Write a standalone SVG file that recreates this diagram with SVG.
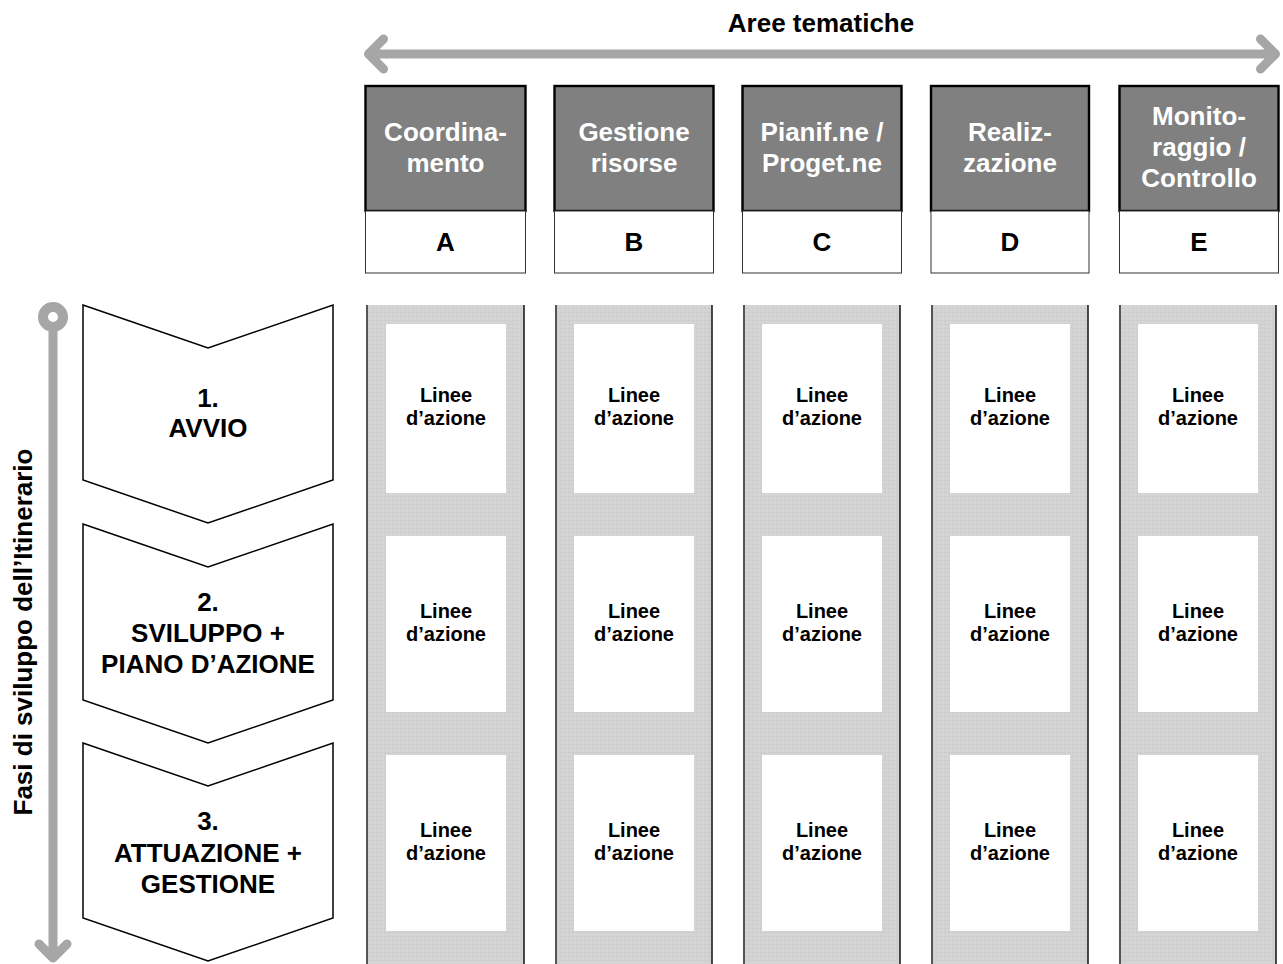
<svg xmlns="http://www.w3.org/2000/svg" width="1283" height="964" viewBox="0 0 1283 964">
<defs>
<style>
text{font-family:"Liberation Sans",Arial,sans-serif;font-weight:bold;text-anchor:middle}
.ht{font-size:26px;fill:#ffffff}
.lt{font-size:26px;fill:#000000}
.ct{font-size:26px;fill:#000000}
.at{font-size:20px;fill:#000000}
.hdr{fill:#808080;stroke:#000000;stroke-width:2.4}
.lab{fill:#ffffff;stroke:#333333;stroke-width:1}
.col{fill:url(#tex)}
.bl{stroke:#555555;stroke-width:2}
.br{stroke:#111111;stroke-width:1.5}
.wb{fill:#ffffff}
.chev{fill:#ffffff;stroke:#000000;stroke-width:1.5;stroke-linejoin:miter}
.arr{fill:none;stroke:#a6a6a6;stroke-width:9;stroke-linecap:round;stroke-linejoin:round}
</style>
<pattern id="tex" width="4" height="4" patternUnits="userSpaceOnUse">
<rect width="4" height="4" fill="#d2d2d2"/>
<rect x="0" y="0" width="2" height="1" fill="#cbcbcb"/>
<rect x="2" y="2" width="2" height="1" fill="#d8d8d8"/>
</pattern>
</defs>
<rect width="1283" height="964" fill="#ffffff"/>

<g id="connectors">
<path class="arr" d="M368.5,54 H1275.5 M383.5,39 L368.5,54 L383.5,69 M1260.5,39 L1275.5,54 L1260.5,69"/>
<path class="arr" d="M53,327 V958 M39,944 L53,958 L67,944"/>
<circle cx="53" cy="317" r="10" fill="#ffffff" stroke="#a6a6a6" stroke-width="10"/>
</g>

<text class="lt" x="821" y="32">Aree tematiche</text>
<text class="lt" transform="translate(32,632) rotate(-90)">Fasi di sviluppo dell’Itinerario</text>

<g id="header-A">
<rect class="hdr" x="365.5" y="86" width="160" height="125"/>
<rect class="lab" x="365.5" y="211" width="160" height="62"/>
<text class="ht" x="445.5" y="141">Coordina-</text>
<text class="ht" x="445.5" y="172">mento</text>
<text class="lt" x="445.5" y="251">A</text>
</g>
<g id="header-B">
<rect class="hdr" x="554.5" y="86" width="159" height="125"/>
<rect class="lab" x="554.5" y="211" width="159" height="62"/>
<text class="ht" x="634" y="141">Gestione</text>
<text class="ht" x="634" y="172">risorse</text>
<text class="lt" x="634" y="251">B</text>
</g>
<g id="header-C">
<rect class="hdr" x="742.5" y="86" width="159" height="125"/>
<rect class="lab" x="742.5" y="211" width="159" height="62"/>
<text class="ht" x="822" y="141">Pianif.ne /</text>
<text class="ht" x="822" y="172">Proget.ne</text>
<text class="lt" x="822" y="251">C</text>
</g>
<g id="header-D">
<rect class="hdr" x="931" y="86" width="158" height="125"/>
<rect class="lab" x="931" y="211" width="158" height="62"/>
<text class="ht" x="1010" y="141">Realiz-</text>
<text class="ht" x="1010" y="172">zazione</text>
<text class="lt" x="1010" y="251">D</text>
</g>
<g id="header-E">
<rect class="hdr" x="1119.5" y="86" width="159" height="125"/>
<rect class="lab" x="1119.5" y="211" width="159" height="62"/>
<text class="ht" x="1199" y="125">Monito-</text>
<text class="ht" x="1199" y="156">raggio /</text>
<text class="ht" x="1199" y="187">Controllo</text>
<text class="lt" x="1199" y="251">E</text>
</g>

<g id="phase-1">
<polygon class="chev" points="83,305 208,348 333,305 333,480 208,523 83,480"/>
<text class="ct" x="208" y="407">1.</text>
<text class="ct" x="208" y="437">AVVIO</text>
</g>
<g id="phase-2">
<polygon class="chev" points="83,524 208,567 333,524 333,700 208,743 83,700"/>
<text class="ct" x="208" y="611">2.</text>
<text class="ct" x="208" y="642">SVILUPPO +</text>
<text class="ct" x="208" y="673">PIANO D’AZIONE</text>
</g>
<g id="phase-3">
<polygon class="chev" points="83,743 208,786 333,743 333,918 208,961 83,918"/>
<text class="ct" x="208" y="830">3.</text>
<text class="ct" x="208" y="862">ATTUAZIONE +</text>
<text class="ct" x="208" y="893">GESTIONE</text>
</g>

<g id="column-A">
<rect class="col" x="367" y="305" width="157" height="659"/>
<line class="bl" x1="367" y1="305" x2="367" y2="964"/>
<line class="br" x1="524" y1="305" x2="524" y2="964"/>
<rect class="wb" x="386" y="324" width="120" height="169"/>
<rect class="wb" x="386" y="536" width="120" height="176"/>
<rect class="wb" x="386" y="755" width="120" height="176"/>
<text class="at" x="446" y="402">Linee</text><text class="at" x="446" y="425">d’azione</text>
<text class="at" x="446" y="618">Linee</text><text class="at" x="446" y="641">d’azione</text>
<text class="at" x="446" y="837">Linee</text><text class="at" x="446" y="860">d’azione</text>
</g>
<g id="column-B">
<rect class="col" x="556" y="305" width="156" height="659"/>
<line class="bl" x1="556" y1="305" x2="556" y2="964"/>
<line class="br" x1="712" y1="305" x2="712" y2="964"/>
<rect class="wb" x="574" y="324" width="120" height="169"/>
<rect class="wb" x="574" y="536" width="120" height="176"/>
<rect class="wb" x="574" y="755" width="120" height="176"/>
<text class="at" x="634" y="402">Linee</text><text class="at" x="634" y="425">d’azione</text>
<text class="at" x="634" y="618">Linee</text><text class="at" x="634" y="641">d’azione</text>
<text class="at" x="634" y="837">Linee</text><text class="at" x="634" y="860">d’azione</text>
</g>
<g id="column-C">
<rect class="col" x="744" y="305" width="156" height="659"/>
<line class="bl" x1="744" y1="305" x2="744" y2="964"/>
<line class="br" x1="900" y1="305" x2="900" y2="964"/>
<rect class="wb" x="762" y="324" width="120" height="169"/>
<rect class="wb" x="762" y="536" width="120" height="176"/>
<rect class="wb" x="762" y="755" width="120" height="176"/>
<text class="at" x="822" y="402">Linee</text><text class="at" x="822" y="425">d’azione</text>
<text class="at" x="822" y="618">Linee</text><text class="at" x="822" y="641">d’azione</text>
<text class="at" x="822" y="837">Linee</text><text class="at" x="822" y="860">d’azione</text>
</g>
<g id="column-D">
<rect class="col" x="932" y="305" width="156" height="659"/>
<line class="bl" x1="932" y1="305" x2="932" y2="964"/>
<line class="br" x1="1088" y1="305" x2="1088" y2="964"/>
<rect class="wb" x="950" y="324" width="120" height="169"/>
<rect class="wb" x="950" y="536" width="120" height="176"/>
<rect class="wb" x="950" y="755" width="120" height="176"/>
<text class="at" x="1010" y="402">Linee</text><text class="at" x="1010" y="425">d’azione</text>
<text class="at" x="1010" y="618">Linee</text><text class="at" x="1010" y="641">d’azione</text>
<text class="at" x="1010" y="837">Linee</text><text class="at" x="1010" y="860">d’azione</text>
</g>
<g id="column-E">
<rect class="col" x="1120" y="305" width="156" height="659"/>
<line class="bl" x1="1120" y1="305" x2="1120" y2="964"/>
<line class="br" x1="1276" y1="305" x2="1276" y2="964"/>
<rect class="wb" x="1138" y="324" width="120" height="169"/>
<rect class="wb" x="1138" y="536" width="120" height="176"/>
<rect class="wb" x="1138" y="755" width="120" height="176"/>
<text class="at" x="1198" y="402">Linee</text><text class="at" x="1198" y="425">d’azione</text>
<text class="at" x="1198" y="618">Linee</text><text class="at" x="1198" y="641">d’azione</text>
<text class="at" x="1198" y="837">Linee</text><text class="at" x="1198" y="860">d’azione</text>
</g>
</svg>
